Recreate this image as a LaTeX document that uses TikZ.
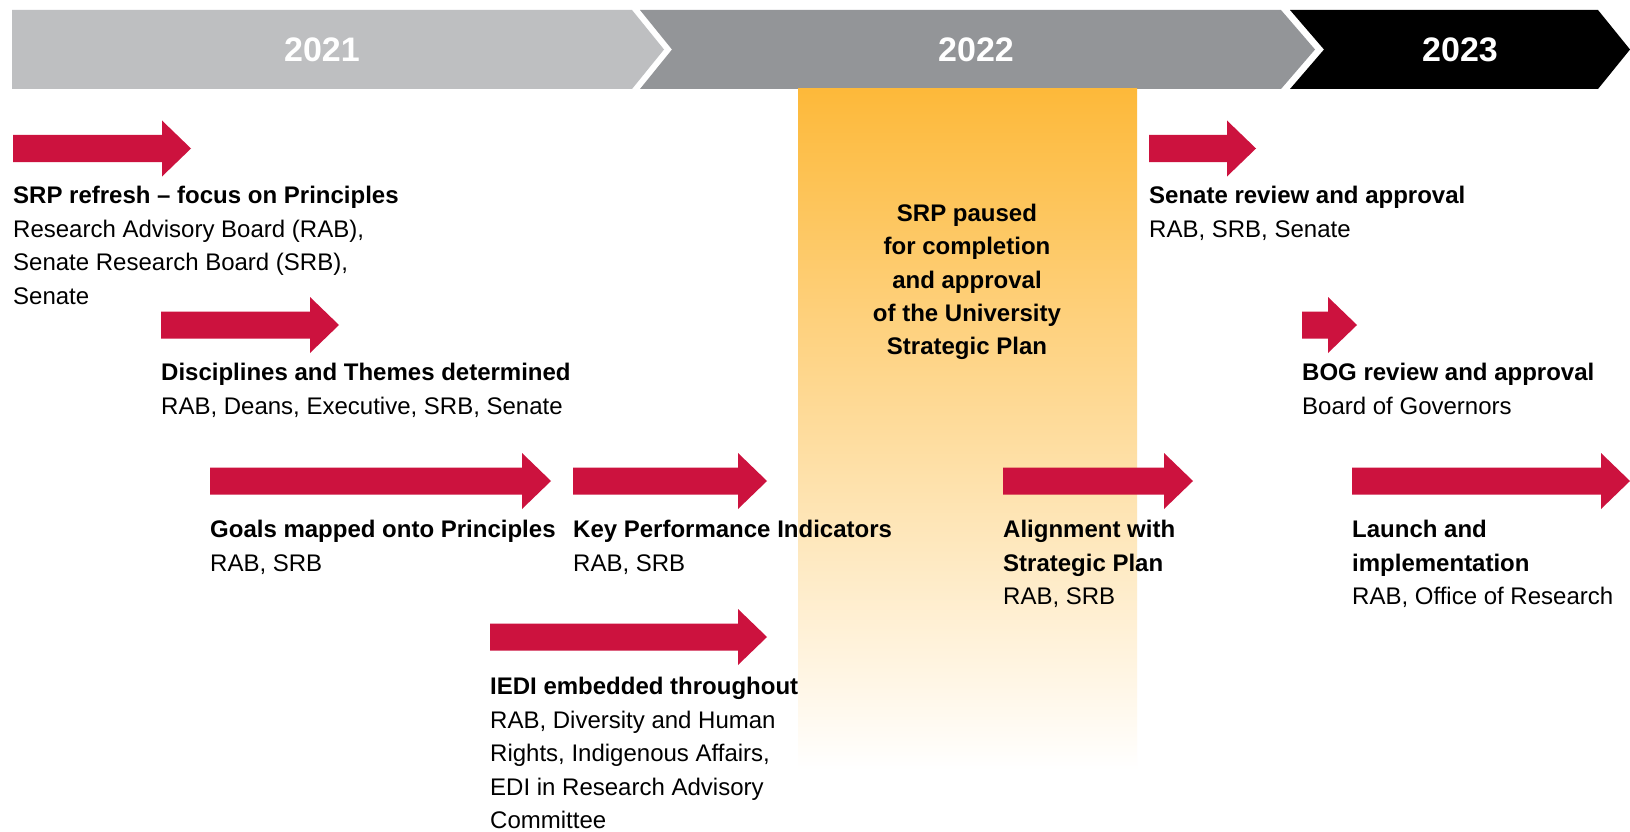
\documentclass[tikz,border=0pt]{standalone}
\usepackage{fontspec}
\setmainfont{Liberation Sans}

\definecolor{yearlight}{RGB}{190,191,193}
\definecolor{yearmid}{RGB}{147,149,152}
\definecolor{arrowred}{RGB}{204,18,62}
\definecolor{pausegold}{RGB}{253,185,58}

% block arrow: #1 = tail x, #2 = tip x, #3 = centre y
\newcommand{\blockarrow}[3]{%
  \fill[arrowred] (#1,#3-13.5) -- (#2-29,#3-13.5) -- (#2-29,#3-28) -- (#2,#3)
    -- (#2-29,#3+28) -- (#2-29,#3+13.5) -- (#1,#3+13.5) -- cycle;}

\begin{document}
\begin{tikzpicture}[x=1pt, y=-1pt,
    stage/.style={anchor=north west, align=left, inner sep=0, font=\fontsize{24}{33.5}\selectfont},
    year/.style={text=white, inner sep=0, font=\fontsize{34}{40}\selectfont\bfseries},
    pausenote/.style={anchor=north, align=center, inner sep=0, font=\fontsize{24}{33.3}\selectfont\bfseries}]
                \useasboundingbox (0,0) rectangle (1630,832);
                \fill[white] (0,0) rectangle (1630,832);

                % year banner
                \fill[yearlight] (12,10) -- (632,10) -- (664,49.5) -- (632,89) -- (12,89) -- cycle;
                \fill[yearmid] (640,10) -- (1281,10) -- (1315,49.5) -- (1281,89) -- (640,89) -- (672,49.5) -- cycle;
                \fill[black] (1290,10) -- (1598,10) -- (1630,49.5) -- (1598,89) -- (1290,89) -- (1324,49.5) -- cycle;
                \node[year] (y2021) at (322,49.5) {2021};
                \node[year] (y2022) at (976,49.5) {2022};
                \node[year] (y2023) at (1460,49.5) {2023};

                % pause band
                \shade[top color=pausegold, bottom color=white] (798,89) rectangle (1137,770);
                \node[pausenote] (paused) at (967,204) {SRP paused\\for completion\\and approval\\of the University\\Strategic Plan};

                \blockarrow{13}{191}{148.5}
                \node[stage] (refresh) at (13,186) {\textbf{SRP refresh -- focus on Principles}\\Research Advisory Board (RAB),\\Senate Research Board (SRB),\\Senate};

                \blockarrow{161}{339}{325}
                \node[stage] (themes) at (161,363) {\textbf{Disciplines and Themes determined}\\RAB, Deans, Executive, SRB, Senate};

                \blockarrow{210}{551}{481}
                \node[stage] (goals) at (210,520) {\textbf{Goals mapped onto Principles}\\RAB, SRB};

                \blockarrow{573}{767}{481}
                \node[stage] (kpi) at (573,520) {\textbf{Key Performance Indicators}\\RAB, SRB};

                \blockarrow{490}{767}{637}
                \node[stage] (iedi) at (490,677) {\textbf{IEDI embedded throughout}\\RAB, Diversity and Human\\Rights, Indigenous Affairs,\\EDI in Research Advisory\\Committee};

                \blockarrow{1003}{1193}{481}
                \node[stage] (align) at (1003,520) {\textbf{Alignment with}\\\textbf{Strategic Plan}\\RAB, SRB};

                \blockarrow{1149}{1256}{148.5}
                \node[stage] (senate) at (1149,186) {\textbf{Senate review and approval}\\RAB, SRB, Senate};

                \blockarrow{1302}{1357}{325}
                \node[stage] (bog) at (1302,363) {\textbf{BOG review and approval}\\Board of Governors};

                \blockarrow{1352}{1630}{481}
                \node[stage] (launch) at (1352,520) {\textbf{Launch and}\\\textbf{implementation}\\RAB, Office of Research};
\end{tikzpicture}
\end{document}
